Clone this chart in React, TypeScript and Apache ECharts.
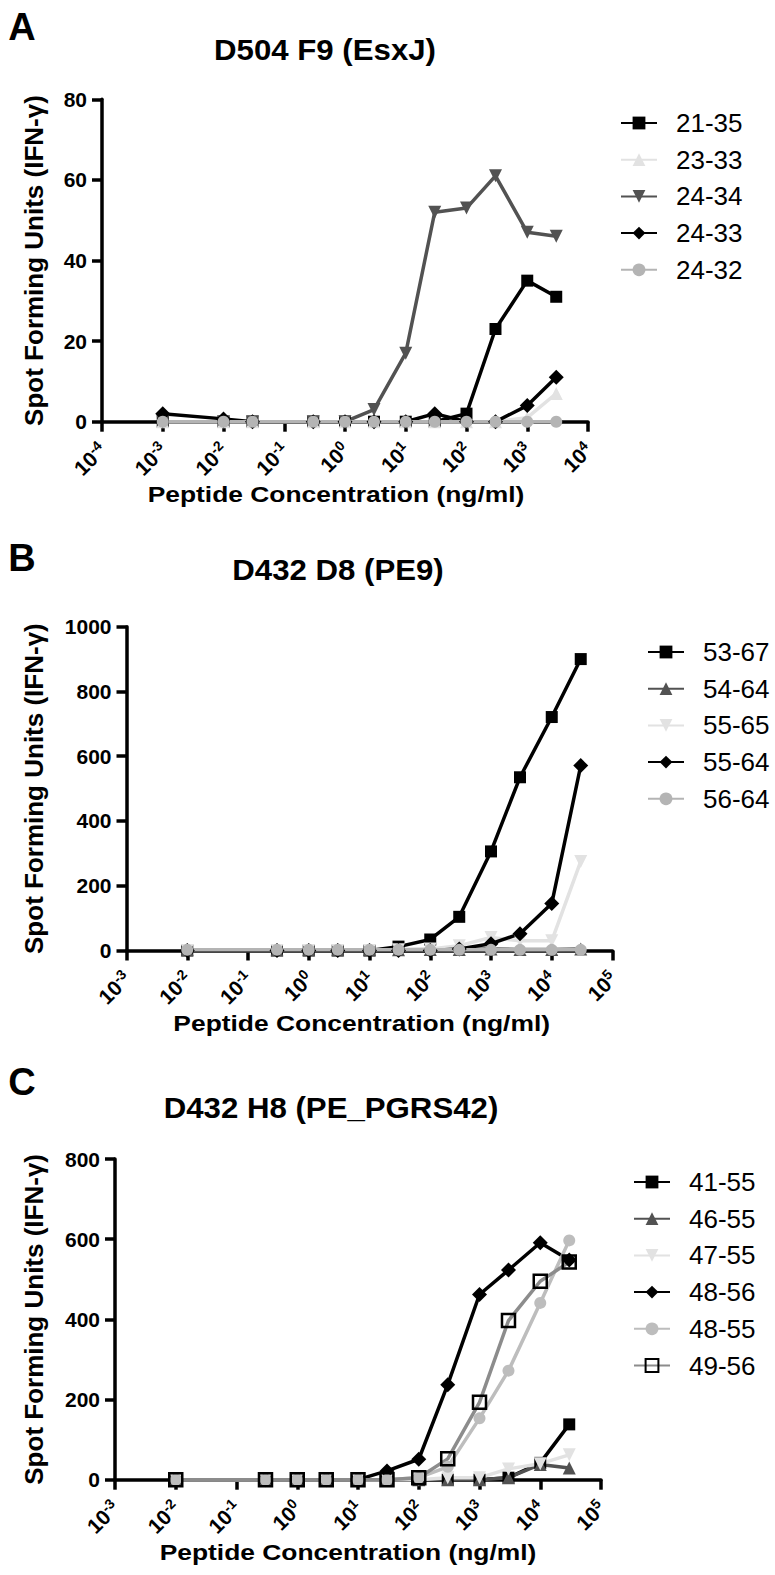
import React, { useEffect, useRef } from "react";
import * as echarts from "echarts";

const FONT = "'Liberation Sans', Arial, Helvetica, sans-serif";

// ---------- Panel A : D504 F9 (EsxJ) ----------
const concA = [0.001, 0.01, 0.03, 0.3, 1, 3, 10, 30, 100, 300, 1000, 3000];
const namesA = ["21-35", "23-33", "24-34", "24-33", "24-32"];
const a2135 = [0, 0, 0, 0, 0, 0, 0, 0, 2, 23, 35, 31];
const a2333 = [0, 0, 0, 0, 0, 0, 0, 0, 0, 0, 1, 7];
const a2434 = [0, 0, 0, 0, 0, 3, 17, 52, 53, 61, 47, 46];
const a2433 = [2, 0.7, 0, 0, 0, 0, 0, 2, 0, 0, 4, 11];
const a2432 = [0, 0, 0, 0, 0, 0, 0, 0, 0, 0, 0, 0];

// ---------- Panel B : D432 D8 (PE9) ----------
const concB = [0.01, 0.3, 1, 3, 10, 30, 100, 300, 1000, 3000, 10000, 30000];
const namesB = ["53-67", "54-64", "55-65", "55-64", "56-64"];
const b5367 = [0, 0, 0, 0, 0, 12, 34, 104, 306, 535, 721, 900];
const b5464 = [2, 2, 2, 2, 2, 2, 3, 3, 5, 3, 3, 5];
const b5565 = [0, 0, 0, 0, 0, 2, 5, 15, 40, 30, 30, 275];
const b5564 = [0, 0, 0, 0, 0, 0, 0, 5, 21, 52, 145, 571];
const b5664 = [2, 2, 2, 2, 2, 2, 2, 2, 2, 2, 2, 2];

// ---------- Panel C : D432 H8 (PE_PGRS42) ----------
const concC = [0.01, 0.3, 1, 3, 10, 30, 100, 300, 1000, 3000, 10000, 30000];
const namesC = ["41-55", "46-55", "47-55", "48-56", "48-55", "49-56"];
const c4155 = [0, 0, 0, 0, 0, 0, 0, 0, 0, 5, 42, 138];
const c4655 = [0, 0, 0, 0, 0, 0, 0, 0, 0, 5, 38, 29];
const c4755 = [0, 0, 0, 0, 0, 0, 0, 5, 5, 27, 40, 62];
const c4856 = [0, 0, 0, 0, 0, 22, 51, 237, 462, 523, 591, 548];
const c4855 = [0, 0, 0, 0, 0, 0, 5, 32, 153, 272, 441, 597];
const c4956 = [0, 0, 0, 0, 0, 0, 5, 52, 193, 397, 495, 543];

const titles = ["D504 F9 (EsxJ)", "D432 D8 (PE9)", "D432 H8 (PE_PGRS42)"];
const letters = ["A", "B", "C"];
const xMins = [1e-4, 1e-3, 1e-3];
const xMaxs = [1e4, 1e5, 1e5];
const yMaxs = [80, 1000, 800];
const yIntervals = [20, 200, 200];
const xTitle = "Peptide Concentration (ng/ml)";
const yTitle = "Spot Forming Units (IFN-γ)";

// ---------- layout (positions / styles only) ----------
const layout = [
  { left: 102, top: 99.3, width: 486, height: 322.4, legendLeft: 620, legendTop: 110, titleX: 325, titleY: 49, letterY: 27, xTitleX: 336 },
  { left: 126.5, top: 626.7, width: 486, height: 323.8, legendLeft: 647, legendTop: 639, titleX: 338, titleY: 569, letterY: 558, xTitleX: 361.7 },
  { left: 115, top: 1159, width: 486, height: 320.7, legendLeft: 633, legendTop: 1169, titleX: 331, titleY: 1107, letterY: 1082, xTitleX: 348 },
];

const BLACK = "#000000";
const DARK = "#525252";
const PALE = "#e2e2e2";
const LIGHT = "#b4b4b4";
const LIGHT2 = "#bdbdbd";
const MID = "#8c8c8c";

type Sty = { color: string; symbol: string; size: number; rotate?: number; open?: boolean };
const sq: Sty = { color: BLACK, symbol: "rect", size: 12 };
const up: Sty = { color: DARK, symbol: "triangle", size: 13 };
const down = (c: string): Sty => ({ color: c, symbol: "triangle", size: 13, rotate: 180 });
const dia: Sty = { color: BLACK, symbol: "diamond", size: 15 };
const circ = (c: string): Sty => ({ color: c, symbol: "circle", size: 12 });

function mk(name: string, xs: number[], ys: number[], s: Sty, idx: number) {
  return {
    type: "line",
    name,
    xAxisIndex: idx,
    yAxisIndex: idx,
    data: xs.map((x, i) => [x, ys[i]]),
    symbol: s.symbol,
    symbolSize: s.size,
    symbolRotate: s.rotate || 0,
    clip: false,
    lineStyle: { width: 3.5, color: s.color },
    itemStyle: s.open
      ? { color: "transparent", borderColor: BLACK, borderWidth: 2.5 }
      : { color: s.color },
    emphasis: { disabled: true },
  };
}

const series = [
  mk(namesA[0], concA, a2135, sq, 0),
  mk(namesA[1], concA, a2333, { color: PALE, symbol: "triangle", size: 13 }, 0),
  mk(namesA[2], concA, a2434, down(DARK), 0),
  mk(namesA[3], concA, a2433, dia, 0),
  mk(namesA[4], concA, a2432, circ(LIGHT), 0),

  mk(namesB[0], concB, b5367, sq, 1),
  mk(namesB[1], concB, b5464, up, 1),
  mk(namesB[2], concB, b5565, down(PALE), 1),
  mk(namesB[3], concB, b5564, dia, 1),
  mk(namesB[4], concB, b5664, circ(LIGHT), 1),

  mk(namesC[0], concC, c4155, sq, 2),
  mk(namesC[1], concC, c4655, up, 2),
  mk(namesC[2], concC, c4755, down(PALE), 2),
  mk(namesC[3], concC, c4856, dia, 2),
  mk(namesC[4], concC, c4855, circ(LIGHT2), 2),
  mk(namesC[5], concC, c4956, { color: MID, symbol: "rect", size: 13, open: true }, 2),
];

const axisLine = { show: true, lineStyle: { color: BLACK, width: 3.5 } };
const axisTick = { show: true, length: 10, lineStyle: { color: BLACK, width: 3.5 } };

function buildOption() {
  const grid = layout.map((l) => ({ left: l.left, top: l.top, width: l.width, height: l.height, containLabel: false }));
  const xAxis = layout.map((l, i) => ({
    type: "log",
    logBase: 10,
    gridIndex: i,
    min: xMins[i],
    max: xMaxs[i],
    axisLine,
    axisTick,
    splitLine: { show: false },
    minorTick: { show: false },
    axisLabel: {
      rotate: 45,
      margin: 24,
      padding: [2, 0, 0, 0],
      showMinLabel: true,
      showMaxLabel: true,
      fontFamily: FONT,
      fontSize: 21,
      fontWeight: "bold",
      color: BLACK,
      lineHeight: 24,
      formatter: (v: number) => `10{sup|${Math.round(Math.log10(v))}}`,
      rich: {
        sup: { fontFamily: FONT, fontSize: 14, fontWeight: "bold", color: BLACK, lineHeight: 12, verticalAlign: "top" },
      },
    },
  }));
  const yAxis = layout.map((l, i) => ({
    type: "value",
    gridIndex: i,
    min: 0,
    max: yMaxs[i],
    interval: yIntervals[i],
    axisLine,
    axisTick,
    splitLine: { show: false },
    axisLabel: {
      margin: 15,
      fontFamily: FONT,
      fontSize: 21,
      fontWeight: "bold",
      color: BLACK,
      formatter: (v: number) => String(v),
    },
  }));
  const legend = [namesA, namesB, namesC].map((names, i) => ({
    data: names,
    orient: "vertical",
    left: layout[i].legendLeft,
    top: layout[i].legendTop,
    itemWidth: 36,
    itemHeight: 16,
    itemGap: 10.7,
    selectedMode: false,
    padding: 0,
    textStyle: { fontFamily: FONT, fontSize: 26, color: BLACK, lineHeight: 26, padding: [0, 0, 0, 14] },
  }));
  const centered = { fill: BLACK, align: "center", verticalAlign: "middle", textAlign: "center", textVerticalAlign: "middle" };
  const graphic: any[] = [];
  layout.forEach((l, i) => {
    graphic.push({
      type: "text",
      x: 22,
      y: l.letterY,
      style: { text: letters[i], font: `bold 38px ${FONT}`, ...centered },
    });
    graphic.push({
      type: "text",
      x: l.titleX,
      y: l.titleY,
      scaleX: 1.04,
      style: { text: titles[i], font: `bold 30px ${FONT}`, ...centered },
    });
    graphic.push({
      type: "text",
      x: l.xTitleX,
      y: l.top + l.height + 73,
      scaleX: 1.2,
      style: { text: xTitle, font: `bold 22px ${FONT}`, ...centered },
    });
    graphic.push({
      type: "text",
      x: 34,
      y: l.top + l.height / 2,
      rotation: Math.PI / 2,
      style: { text: yTitle, font: `bold 26px ${FONT}`, ...centered },
    });
  });
  return {
    animation: false,
    backgroundColor: "#ffffff",
    textStyle: { fontFamily: FONT },
    grid,
    xAxis,
    yAxis,
    legend,
    graphic,
    series,
  };
}

export default function App() {
  const ref = useRef<HTMLDivElement>(null);
  useEffect(() => {
    document.body.style.margin = "0";
    const chart = echarts.init(ref.current!, null, { renderer: "svg" });
    chart.setOption(buildOption() as any);
    return () => chart.dispose();
  }, []);
  return <div ref={ref} style={{ width: 775, height: 1575 }} />;
}
